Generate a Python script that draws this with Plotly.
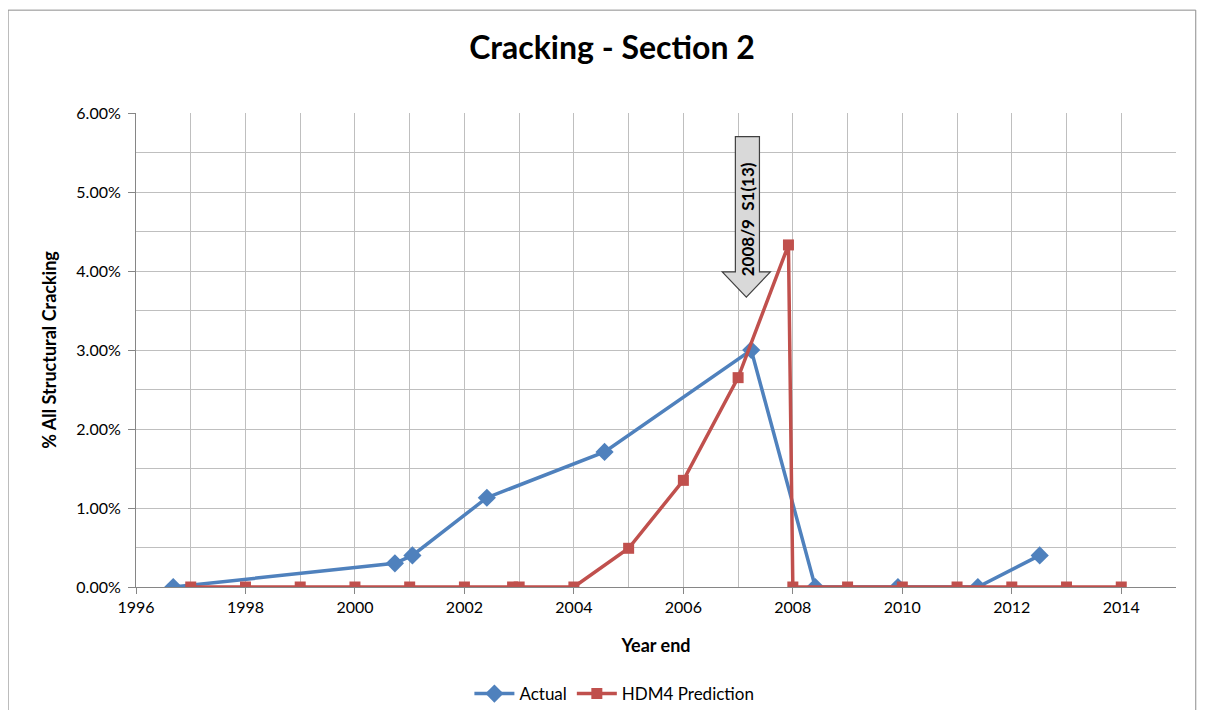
import plotly.graph_objects as go

# Data
actual_years = [1996.68, 2000.73, 2001.05, 2002.41, 2004.56, 2007.24, 2008.41, 2009.92, 2011.38, 2012.51]
actual_vals = [0.0, 0.0030, 0.0040, 0.0113, 0.0171, 0.0300, 0.0, 0.0, 0.0, 0.0040]

hdm4_years = [1997, 1998, 1999, 2000, 2001, 2002, 2002.88, 2003, 2004, 2005, 2006, 2007, 2007.92, 2008, 2009, 2010, 2011, 2012, 2013, 2014]
hdm4_vals = [0, 0, 0, 0, 0, 0, 0, 0, 0, 0.0049, 0.0135, 0.0265, 0.0433, 0, 0, 0, 0, 0, 0, 0]

x_ticks = [1996, 1998, 2000, 2002, 2004, 2006, 2008, 2010, 2012, 2014]
y_ticks = [0, 0.01, 0.02, 0.03, 0.04, 0.05, 0.06]

arrow_label = "2008/9  S1(13)"
# arrow callout geometry (year, fraction)
arrow_x = [2006.95, 2007.39, 2006.71, 2007.59, 2007.15]
arrow_y = [0.0570, 0.0399, 0.0367]

FONT = "Lato, 'Open Sans', sans-serif"
BLUE = "#4F81BD"
RED = "#C0504D"

fig = go.Figure()
fig.add_trace(go.Scatter(
    x=actual_years, y=actual_vals, name="Actual", mode="lines+markers",
    line=dict(color=BLUE, width=3.5),
    marker=dict(symbol="diamond", size=14, color=BLUE),
))
fig.add_trace(go.Scatter(
    x=hdm4_years, y=hdm4_vals, name="HDM4 Prediction", mode="lines+markers",
    line=dict(color=RED, width=3.5),
    marker=dict(symbol="square", size=11, color=RED),
))

# Arrow callout shape
sl, sr, hl, hr, tip = arrow_x
top, hb, ty = arrow_y
path = (f"M {sl},{top} L {sr},{top} L {sr},{hb} L {hr},{hb} L {tip},{ty} "
        f"L {hl},{hb} L {sl},{hb} Z")
fig.add_shape(type="path", path=path, xref="x", yref="y",
              fillcolor="#d9d9d9", line=dict(color="#404040", width=1.2))
fig.add_annotation(x=(sl + sr) / 2, y=0.0466, xref="x", yref="y",
                   text=f"<b>{arrow_label}</b>", showarrow=False, textangle=-90,
                   font=dict(family=FONT, size=17, color="black"))

# outer chart border
fig.add_shape(type="rect", xref="paper", yref="paper",
              x0=-0.123, x1=1.019, y0=-0.30, y1=1.217,
              line=dict(color="#8c8c8c", width=1), fillcolor="rgba(0,0,0,0)")

fig.update_layout(
    width=1190, height=702,
    margin=dict(l=128, r=22, t=105, b=123, autoexpand=False),
    paper_bgcolor="white", plot_bgcolor="white",
    font=dict(family=FONT, size=15, color="black"),
    title=dict(text="<b>Cracking - Section 2</b>", x=0.5076, xanchor="center",
               y=0.943, yanchor="middle", font=dict(family=FONT, size=32, color="black")),
    showlegend=True,
    legend=dict(orientation="h", x=0.46, xanchor="center", y=-0.2257, yanchor="middle",
                font=dict(family=FONT, size=17), itemwidth=40),
    xaxis=dict(
        range=[1996, 2015], tickmode="array", tickvals=x_ticks,
        ticktext=[str(t) for t in x_ticks],
        showgrid=True, gridcolor="#bfbfbf", gridwidth=1,
        minor=dict(dtick=1, tick0=1996, showgrid=True, gridcolor="#bfbfbf"),
        showline=True, linecolor="#868686", linewidth=1,
        ticks="outside", ticklen=6, tickcolor="#868686",
        zeroline=False,
        title=dict(text="<b>Year end</b>", font=dict(family=FONT, size=18), standoff=24),
        tickfont=dict(size=16),
    ),
    yaxis=dict(
        range=[0, 0.06], tickmode="array", tickvals=y_ticks, tickformat=".2%",
        showgrid=True, gridcolor="#bfbfbf", gridwidth=1,
        minor=dict(dtick=0.005, tick0=0, showgrid=True, gridcolor="#bfbfbf"),
        showline=True, linecolor="#868686", linewidth=1,
        ticks="outside", ticklen=7, tickcolor="#868686",
        ticklabelstandoff=4,
        zeroline=False,
        title=dict(text="<b>% All Structural Cracking</b>", font=dict(family=FONT, size=18), standoff=15),
        tickfont=dict(size=16),
    ),
)

fig.write_html("out.html")
